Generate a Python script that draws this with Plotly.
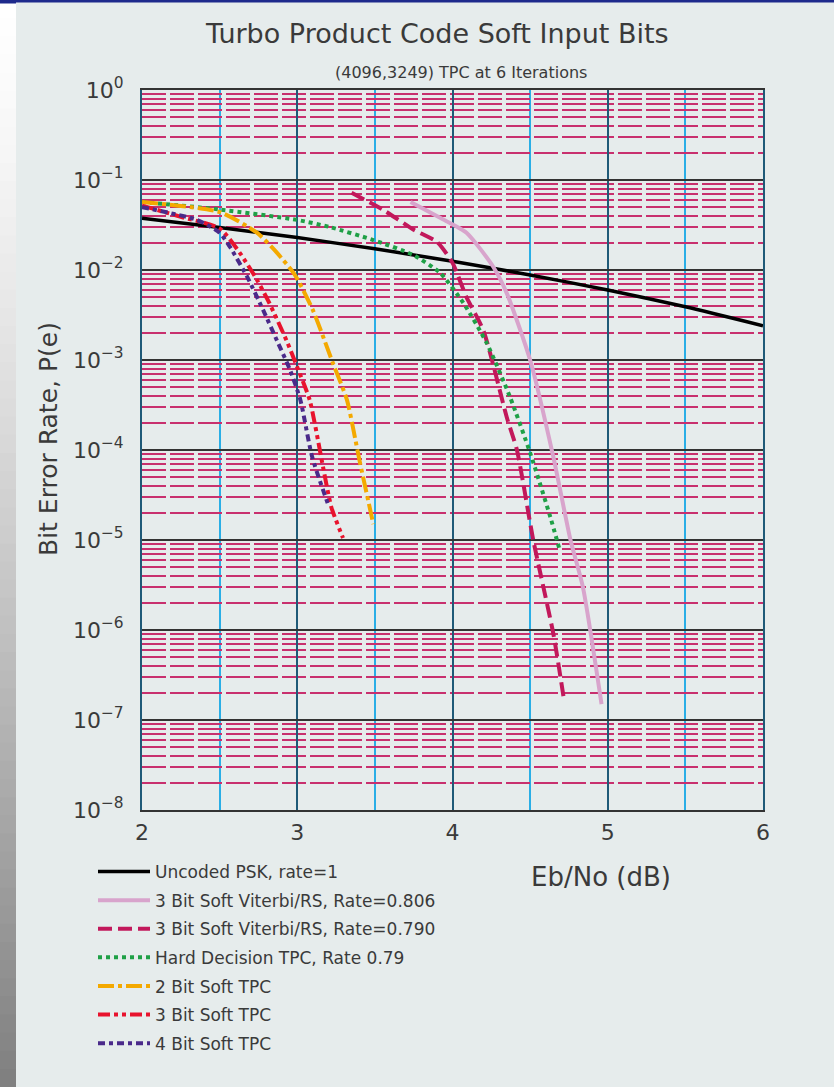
import plotly.graph_objects as go

# ---------------- data ----------------
x_unc = [2, 2.5, 3, 3.5, 4, 4.5, 5, 5.5, 6]
y_unc = [0.0375, 0.0296, 0.0229, 0.0172, 0.0125, 0.0088, 0.0060, 0.0039, 0.0024]

x_vit806 = [3.73, 3.92, 4.09, 4.26, 4.35, 4.50, 4.65, 4.76, 4.84, 4.96]
y_vit806 = [0.057, 0.038, 0.026, 0.011, 0.0055, 0.001, 8.3e-5, 1.0e-5, 3.0e-6, 1.5e-7]

x_vit790 = [3.35, 3.55, 3.75, 3.9, 4.0, 4.09, 4.2, 4.35, 4.415, 4.52, 4.65, 4.72]
y_vit790 = [0.072, 0.047, 0.028, 0.0205, 0.012, 0.005, 0.0021, 2.3e-4, 1.0e-4, 1.0e-5, 9.0e-7, 1.6e-7]

x_hard = [2, 2.5, 3.0, 3.21, 3.49, 3.746, 3.92, 4.07, 4.22, 4.37, 4.5, 4.63, 4.69]
y_hard = [0.057, 0.047, 0.036, 0.030, 0.0215, 0.0147, 0.0093, 0.0043, 0.00155, 3.9e-4, 9.3e-5, 1.8e-5, 7.8e-6]

x_2bit = [2, 2.5, 2.74, 2.87, 2.985, 3.1, 3.23, 3.32, 3.40, 3.49]
y_2bit = [0.057, 0.044, 0.026, 0.0155, 0.0088, 0.0036, 9.2e-4, 3.6e-4, 7.8e-5, 1.5e-5]

x_3bit = [2, 2.25, 2.5, 2.63, 2.74, 2.82, 2.93, 3.0, 3.08, 3.166, 3.22, 3.295]
y_3bit = [0.052, 0.039, 0.029, 0.0155, 0.0078, 0.0043, 0.00166, 8.3e-4, 3.6e-4, 6.5e-5, 2.3e-5, 1.05e-5]

x_4bit = [2, 2.354, 2.5, 2.567, 2.676, 2.78, 2.876, 2.953, 3.02, 3.095, 3.2]
y_4bit = [0.05, 0.036, 0.026, 0.018, 0.0085, 0.0036, 0.00155, 7.8e-4, 3.6e-4, 8.5e-5, 2.45e-5]

names = [
    "Uncoded PSK, rate=1",
    "3 Bit Soft Viterbi/RS, Rate=0.806",
    "3 Bit Soft Viterbi/RS, Rate=0.790",
    "Hard Decision TPC, Rate 0.79",
    "2 Bit Soft TPC",
    "3 Bit Soft TPC",
    "4 Bit Soft TPC",
]

x_tickvals = [2, 3, 4, 5, 6]
x_ticktext = ["2", "3", "4", "5", "6"]
y_tickvals = [1, 1e-1, 1e-2, 1e-3, 1e-4, 1e-5, 1e-6, 1e-7, 1e-8]
y_ticktext = ["10<sup>0</sup>", "10<sup>−1</sup>", "10<sup>−2</sup>", "10<sup>−3</sup>",
              "10<sup>−4</sup>", "10<sup>−5</sup>", "10<sup>−6</sup>", "10<sup>−7</sup>",
              "10<sup>−8</sup>"]

# ---------------- styles ----------------
FONT = "DejaVu Sans"
TXT = "#3a3a3a"
BG = "#e6ecec"

series = [
    (x_unc, y_unc, "#000000", "solid", 3.5),
    (x_vit806, y_vit806, "#d8a4cc", "solid", 4),
    (x_vit790, y_vit790, "#c2185b", "14px,6px", 4),
    (x_hard, y_hard, "#1fa046", "4px,4px", 4),
    (x_2bit, y_2bit, "#f4a900", "16px,4px,4px,4px", 4),
    (x_3bit, y_3bit, "#e8132d", "12px,4px,4px,4px,4px,4px", 4),
    (x_4bit, y_4bit, "#4a2a8a", "7px,4px,4px,4px", 4),
]

fig = go.Figure()
for i, ((xs, ys, col, dash, w), nm) in enumerate(zip(series, names)):
    fig.add_trace(go.Scatter(
        x=xs, y=ys, name=nm, mode="lines", legendgroup=f"g{i}",
        line=dict(color=col, dash=dash, width=w, shape="spline", smoothing=0.6),
    ))

W, H = 834, 1087
L, R, T, B = 142, 71, 90, 277
PW, PH = W - L - R, H - T - B


def px(p):
    return (p - L) / PW


def py(p):
    return (H - B - p) / PH


fig.update_layout(
    width=W, height=H, autosize=False,
    margin=dict(l=L, r=R, t=T, b=B, pad=0),
    paper_bgcolor=BG, plot_bgcolor=BG,
    font=dict(family=FONT, color=TXT),
    showlegend=True,
    legend=dict(
        x=px(93), y=py(854), xanchor="left", yanchor="top",
        bgcolor="rgba(0,0,0,0)", font=dict(size=17, family=FONT, color=TXT),
        itemwidth=52, tracegroupgap=3.5,
    ),
    xaxis=dict(
        range=[2, 6], tickvals=x_tickvals, ticktext=x_ticktext,
        tickfont=dict(size=22, family=FONT, color=TXT),
        showgrid=True, gridcolor="#1f5a78", gridwidth=2,
        minor=dict(dtick=0.5, showgrid=True, gridcolor="#2aaee6", gridwidth=1.5),
        showline=True, linecolor="#333333", linewidth=2, mirror=True,
        ticks="", zeroline=False, ticklabelstandoff=2,
    ),
    yaxis=dict(
        type="log", range=[-8, 0], tickvals=y_tickvals, ticktext=y_ticktext,
        tickfont=dict(size=22, family=FONT, color=TXT),
        showgrid=True, gridcolor="#333333", gridwidth=1.5,
        minor=dict(dtick="D1", showgrid=True, gridcolor="#c8306e", gridwidth=2,
                   griddash="24px,4px"),
        showline=True, linecolor="#1f5a78", linewidth=2, mirror=True,
        ticks="", zeroline=False, ticklabelstandoff=12,
    ),
)

# titles & labels
fig.add_annotation(text="Turbo Product Code Soft Input Bits", xref="paper", yref="paper",
                   x=px(437), y=py(33), showarrow=False, xanchor="center", yanchor="middle",
                   font=dict(size=27, family=FONT, color=TXT))
fig.add_annotation(text="(4096,3249) TPC at 6 Iterations", xref="paper", yref="paper",
                   x=px(461), y=py(72), showarrow=False, xanchor="center", yanchor="middle",
                   font=dict(size=16, family=FONT, color=TXT))
fig.add_annotation(text="Bit Error Rate, P(e)", xref="paper", yref="paper",
                   x=px(48), y=py(439), showarrow=False, textangle=-90,
                   xanchor="center", yanchor="middle",
                   font=dict(size=25, family=FONT, color=TXT))
fig.add_annotation(text="Eb/No (dB)", xref="paper", yref="paper",
                   x=px(601), y=py(877), showarrow=False, xanchor="center", yanchor="middle",
                   font=dict(size=26, family=FONT, color=TXT))

# page decorations: left gradient strip and top navy bar
shapes = []
N = 60
for i in range(N):
    t = i / (N - 1)
    g = int(round(255 - (t ** 1.3) * (255 - 128)))
    col = f"rgb({g},{g},{g})"
    y0 = i * H / N
    y1 = (i + 1) * H / N + 1
    shapes.append(dict(type="rect", xref="paper", yref="paper",
                       x0=px(0), x1=px(16), y0=py(y1), y1=py(y0),
                       fillcolor=col, line=dict(width=0), layer="above"))
shapes.append(dict(type="rect", xref="paper", yref="paper",
                   x0=px(0), x1=px(W), y0=py(2.5), y1=py(0),
                   fillcolor="#1e2a8c", line=dict(width=0), layer="above"))
shapes.append(dict(type="rect", xref="paper", yref="paper",
                   x0=px(0), x1=px(16), y0=py(3.5), y1=py(0),
                   fillcolor="#1e2a8c", line=dict(width=0), layer="above"))
fig.update_layout(shapes=shapes)

fig.write_html("out.html", config={"displayModeBar": False},
               post_script="document.body.style.margin='0';")
